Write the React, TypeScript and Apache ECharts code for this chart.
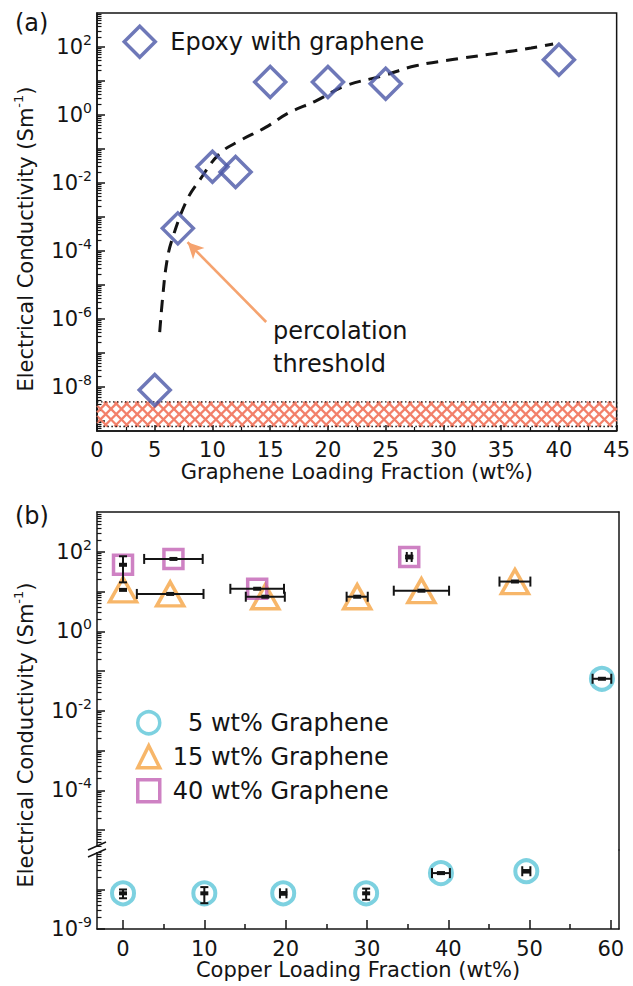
import React, { useEffect, useRef } from 'react';
import * as echarts from 'echarts';

const FONT = 'DejaVu Sans';
const INK = '#141414';

// ---------- Panel (a): epoxy with graphene ----------
const grapheneWt = [5, 7, 10, 12, 15, 20, 25, 40];
const epoxySigma = [8.1e-9, 4.6e-4, 0.03, 0.021, 9.3, 9.3, 8.3, 42];
const fitWt = [5.43, 5.69, 6.03, 6.47, 7.76, 8.88, 10.6, 12.3, 14.6, 16.6, 18.97, 21.5, 24.7, 27.6, 31.3, 34.7, 37.6, 39.5];
const fitSigma = [4.1e-7, 4.4e-6, 4.4e-5, 2.0e-4, 3.0e-3, 1.2e-2, 7.2e-2, 0.17, 0.43, 1.15, 2.6, 7.2, 14, 28, 45, 66, 93, 123];
const bandWt = [0, 45];
const bandSigma = [6.8e-10, 3.6e-9];
const arrowWt = [14.65, 7.84];
const arrowSigma = [8.1e-7, 1.8e-4];
const aXLabels = [0, 5, 10, 15, 20, 25, 30, 35, 40, 45];
const aYExponents = [-8, -6, -4, -2, 0, 2];
const aYMajors = [-9, -8, -7, -6, -5, -4, -3, -2, -1, 0, 1, 2];

// ---------- Panel (b): copper loading ----------
const copperWt5 = [0, 10, 19.7, 29.9, 39.1, 49.6, 58.9];
const sigma5 = [8.0e-9, 8.0e-9, 8.0e-9, 8.0e-9, 2.6e-8, 2.9e-8, 0.064];
const xErr5 = [0, 0, 0.4, 0, 1.1, 0.5, 1.15];
const yErr5 = [2.0e-9, 3.5e-9, 0.6e-9, 2.5e-9, 1.0e-9, 2.0e-9, 0];

const copperWt15 = [0, 5.8, 17.5, 28.8, 36.7, 48.2];
const sigma15 = [11, 8.7, 7.4, 7.4, 10.5, 17.8];
const xErr15 = [0, 4.1, 2.4, 1.3, 3.4, 1.9];
const yErr15 = [0, 0, 0, 0, 0, 0];

const copperWt40 = [0, 6.2, 16.5, 35.2];
const sigma40 = [47, 66, 11.7, 74];
const xErr40 = [0, 3.6, 3.3, 0.3];
const yErr40 = [30, 0, 0, 6];

const bXLabels = [0, 10, 20, 30, 40, 50, 60];
const bXMinor = [5, 15, 25, 35, 45, 55];
const bUpperExponents = [-4, -2, 0, 2];
const bUpperMajors = [-5, -4, -3, -2, -1, 0, 1, 2];
const bLowerExponents = [-9];
const bLowerMajors = [-9, -8];

const C_DIAMOND = '#4A56A6';
const C_CIRCLE = '#5CC6D8';
const C_TRI = '#F5A443';
const C_SQ = '#C262B4';
const C_HATCH = '#F2806A';
const C_ARROW = '#F5A36F';

const lg = (v: number) => Math.log10(v);

function minorTicks(lo: number, hi: number): number[] {
  const out: number[] = [];
  for (let n = Math.floor(lo) - 1; n <= Math.ceil(hi); n++) {
    for (let k = 2; k <= 9; k++) {
      const v = n + Math.log10(k);
      if (v >= lo + 1e-6 && v <= hi - 1e-6) out.push(v);
    }
  }
  return out;
}

const richLabel = {
  b: { fontSize: 21, lineHeight: 28, fontFamily: FONT, color: INK },
  s: { fontSize: 14, lineHeight: 14, verticalAlign: 'top', fontFamily: FONT, color: INK },
};
const powFormatter = (v: number) => `{b|10}{s|${Math.round(v)}}`;

const lineStyle = { color: INK, width: 1.5 };

function yTitle(pad: number) {
  return {
    name: '{t|Electrical Conductivity (Sm}{s|-1}{t|)}',
    nameLocation: 'middle',
    nameGap: 57,
    nameRotate: 90,
    nameTextStyle: {
      padding: [0, pad, 0, 0],
      rich: {
        t: { fontSize: 21, lineHeight: 28, fontFamily: FONT, color: INK },
        s: { fontSize: 13, lineHeight: 13, verticalAlign: 'top', fontFamily: FONT, color: INK },
      },
    },
  };
}

function makeErrData(xs: number[], ys: number[], xe: number[], ye: number[], keep: (logY: number) => boolean) {
  const out: number[][] = [];
  xs.forEach((x, i) => {
    const y = lg(ys[i]);
    if (!keep(y)) return;
    const yl = ye[i] > 0 ? lg(ys[i] - ye[i]) : y;
    const yh = ye[i] > 0 ? lg(ys[i] + ye[i]) : y;
    out.push([x, y, x - xe[i], x + xe[i], yl, yh]);
  });
  return out;
}

function scatterData(xs: number[], ys: number[], keep: (logY: number) => boolean) {
  const out: number[][] = [];
  xs.forEach((x, i) => {
    const y = lg(ys[i]);
    if (keep(y)) out.push([x, y]);
  });
  return out;
}

const renderErr = (params: any, api: any) => {
  const x = api.value(0), y = api.value(1);
  const c = api.coord([x, y]);
  const lo = api.coord([api.value(2), y]);
  const hi = api.coord([api.value(3), y]);
  const yl = api.coord([x, api.value(4)]);
  const yh = api.coord([x, api.value(5)]);
  const st = { stroke: INK, lineWidth: 2 };
  const ch: any[] = [];
  if (hi[0] - lo[0] > 1) {
    ch.push({ type: 'line', shape: { x1: lo[0], y1: c[1], x2: hi[0], y2: c[1] }, style: st });
    ch.push({ type: 'line', shape: { x1: lo[0], y1: c[1] - 5, x2: lo[0], y2: c[1] + 5 }, style: st });
    ch.push({ type: 'line', shape: { x1: hi[0], y1: c[1] - 5, x2: hi[0], y2: c[1] + 5 }, style: st });
  }
  if (yl[1] - yh[1] > 1) {
    ch.push({ type: 'line', shape: { x1: c[0], y1: yh[1], x2: c[0], y2: yl[1] }, style: st });
    ch.push({ type: 'line', shape: { x1: c[0] - 4, y1: yh[1], x2: c[0] + 4, y2: yh[1] }, style: st });
    ch.push({ type: 'line', shape: { x1: c[0] - 4, y1: yl[1], x2: c[0] + 4, y2: yl[1] }, style: st });
  }
  ch.push({ type: 'rect', shape: { x: c[0] - 4, y: c[1] - 2, width: 8, height: 4 }, style: { fill: INK } });
  return { type: 'group', children: ch };
};

const renderHatch = (params: any, api: any) => {
  const p0 = api.coord([api.value(0), api.value(1)]);
  const p1 = api.coord([api.value(2), api.value(3)]);
  const x0 = p0[0], yTop = p0[1], x1 = p1[0], yBot = p1[1];
  const h = yBot - yTop;
  const per = 10.5;
  const st = { stroke: C_HATCH, lineWidth: 2.3 };
  const ch: any[] = [];
  for (let xb = x0 - h; xb <= x1; xb += per) {
    const t0 = Math.max(0, x0 - xb);
    const t1 = Math.min(h, x1 - xb);
    if (t1 > t0) {
      ch.push({ type: 'line', shape: { x1: xb + t0, y1: yBot - t0, x2: xb + t1, y2: yBot - t1 }, style: st });
      ch.push({ type: 'line', shape: { x1: xb + t0, y1: yTop + t0, x2: xb + t1, y2: yTop + t1 }, style: st });
    }
  }
  ch.push({
    type: 'rect',
    shape: { x: x0, y: yTop, width: x1 - x0, height: h },
    style: { fill: 'none', stroke: INK, lineWidth: 1.3, lineDash: [1.5, 2.5] },
  });
  return { type: 'group', children: ch };
};

const hollow = (color: string, bw: number) => ({ color: 'rgba(255,255,255,0)', borderColor: color, borderWidth: bw });

export default function App() {
  const ref = useRef<HTMLDivElement>(null);
  useEffect(() => {
    if (!ref.current) return;
    const chart = echarts.init(ref.current, undefined, { renderer: 'svg' });
    const isUpper = (v: number) => v > -7;
    const isLower = (v: number) => v <= -7;
    const any = () => true;

    const option: any = {
      animation: false,
      textStyle: { fontFamily: FONT },
      grid: [
        { left: 97, top: 13, width: 522, height: 418, show: true, borderColor: INK, borderWidth: 1.5 },
        { left: 97, top: 512, width: 522, height: 338 },
        { left: 97, top: 850, width: 522, height: 79 },
      ],
      legend: [
        {
          data: ['Epoxy with graphene'],
          left: 117.5,
          top: 19.5,
          itemWidth: 31,
          itemHeight: 31,
          itemStyle: { borderWidth: 3.5 },
          textStyle: { fontSize: 24, fontFamily: FONT, color: INK, padding: [0, 0, 0, 10], lineHeight: 24 },
        },
        {
          data: ['5 wt% Graphene', '15 wt% Graphene', '40 wt% Graphene'],
          orient: 'vertical',
          left: 131,
          top: 705,
          itemWidth: 22,
          itemHeight: 22,
          itemGap: 8.5,
          itemStyle: { borderWidth: 3.5 },
          formatter: (n: string) => (n.startsWith('5 ') ? '\u2007' + n : n),
          textStyle: { fontSize: 24, fontFamily: FONT, color: INK, padding: [0, 0, 0, 8], lineHeight: 24 },
        },
      ],
      xAxis: [
        {
          type: 'value', gridIndex: 0, position: 'bottom', min: 0, max: 45, interval: 5,
          axisLine: { onZero: false, lineStyle },
          axisTick: { inside: true, length: 6, lineStyle },
          minorTick: { show: true, splitNumber: 2, length: 4, lineStyle: { color: INK, width: 1.2 } },
          splitLine: { show: false }, minorSplitLine: { show: false },
          axisLabel: { fontSize: 21, color: INK, margin: 8, fontFamily: FONT, customValues: aXLabels },
          name: 'Graphene Loading Fraction (wt%)', nameLocation: 'middle', nameGap: 30,
          nameTextStyle: { fontSize: 21, color: INK, fontFamily: FONT },
        },
        {
          type: 'value', gridIndex: 1, position: 'top', min: -3.2, max: 61,
          axisLine: { onZero: false, lineStyle }, axisTick: { show: false }, axisLabel: { show: false },
          splitLine: { show: false },
        },
        {
          type: 'value', gridIndex: 2, position: 'bottom', min: -3.2, max: 61,
          axisLine: { onZero: false, lineStyle },
          axisTick: { inside: true, length: 9, lineStyle, customValues: bXLabels },
          axisLabel: { fontSize: 21, color: INK, margin: 9, fontFamily: FONT, customValues: bXLabels },
          splitLine: { show: false },
          name: 'Copper Loading Fraction (wt%)', nameLocation: 'middle', nameGap: 29,
          nameTextStyle: { fontSize: 21, color: INK, fontFamily: FONT },
        },
        {
          type: 'value', gridIndex: 2, position: 'bottom', min: -3.2, max: 61,
          axisLine: { show: false, onZero: false },
          axisTick: { inside: true, length: 5, lineStyle, customValues: bXMinor },
          axisLabel: { show: false }, splitLine: { show: false },
        },
      ],
      yAxis: [
        {
          type: 'value', gridIndex: 0, position: 'left', min: -9.3, max: 3,
          axisLine: { onZero: false, lineStyle },
          axisTick: { inside: true, length: 8, lineStyle, customValues: aYMajors },
          axisLabel: { customValues: aYExponents, formatter: powFormatter, rich: richLabel, margin: 5 },
          splitLine: { show: false },
          ...yTitle(34),
        },
        {
          type: 'value', gridIndex: 0, position: 'left', min: -9.3, max: 3,
          axisLine: { show: false, onZero: false },
          axisTick: { inside: true, length: 4.5, lineStyle: { color: INK, width: 1.2 }, customValues: minorTicks(-9.3, 3) },
          axisLabel: { show: false }, splitLine: { show: false },
        },
        {
          type: 'value', gridIndex: 1, position: 'left', min: -5.5, max: 3,
          axisLine: { onZero: false, lineStyle },
          axisTick: { inside: true, length: 8, lineStyle, customValues: bUpperMajors },
          axisLabel: { customValues: bUpperExponents, formatter: powFormatter, rich: richLabel, margin: 5 },
          splitLine: { show: false },
          ...yTitle(108),
        },
        {
          type: 'value', gridIndex: 1, position: 'left', min: -5.5, max: 3,
          axisLine: { show: false, onZero: false },
          axisTick: { inside: true, length: 4.5, lineStyle: { color: INK, width: 1.2 }, customValues: minorTicks(-5.5, 3) },
          axisLabel: { show: false }, splitLine: { show: false },
        },
        {
          type: 'value', gridIndex: 1, position: 'right', min: -5.5, max: 3,
          axisLine: { onZero: false, lineStyle }, axisTick: { show: false }, axisLabel: { show: false },
          splitLine: { show: false },
        },
        {
          type: 'value', gridIndex: 2, position: 'left', min: -9, max: -7,
          axisLine: { onZero: false, lineStyle },
          axisTick: { inside: true, length: 8, lineStyle, customValues: bLowerMajors },
          axisLabel: { customValues: bLowerExponents, formatter: powFormatter, rich: richLabel, margin: 5 },
          splitLine: { show: false },
        },
        {
          type: 'value', gridIndex: 2, position: 'left', min: -9, max: -7,
          axisLine: { show: false, onZero: false },
          axisTick: { inside: true, length: 4.5, lineStyle: { color: INK, width: 1.2 }, customValues: minorTicks(-9, -7) },
          axisLabel: { show: false }, splitLine: { show: false },
        },
        {
          type: 'value', gridIndex: 2, position: 'right', min: -9, max: -7,
          axisLine: { onZero: false, lineStyle }, axisTick: { show: false }, axisLabel: { show: false },
          splitLine: { show: false },
        },
      ],
      series: [
        {
          type: 'custom', name: 'band', xAxisIndex: 0, yAxisIndex: 0, z: 1, silent: true,
          renderItem: renderHatch,
          encode: { x: [0, 2], y: [1, 3] },
          data: [[bandWt[0], lg(bandSigma[1]), bandWt[1], lg(bandSigma[0])]],
        },
        {
          type: 'line', name: 'fit', xAxisIndex: 0, yAxisIndex: 0, z: 2,
          data: fitWt.map((x, i) => [x, lg(fitSigma[i])]),
          smooth: 0.4, showSymbol: false, symbol: 'none',
          lineStyle: { color: INK, width: 3, type: [12, 8] },
          markLine: {
            silent: true, symbol: ['none', 'arrow'], symbolSize: [12, 16],
            lineStyle: { color: C_ARROW, width: 2.6, type: 'solid' },
            label: { show: false },
            data: [[
              { coord: [arrowWt[0], lg(arrowSigma[0])] },
              { coord: [arrowWt[1], lg(arrowSigma[1])] },
            ]],
          },
        },
        {
          type: 'scatter', name: 'Epoxy with graphene', xAxisIndex: 0, yAxisIndex: 0, z: 3,
          symbol: 'diamond', symbolSize: 31,
          itemStyle: hollow(C_DIAMOND, 3.5),
          data: scatterData(grapheneWt, epoxySigma, any),
        },
        {
          type: 'scatter', name: '5 wt% Graphene', xAxisIndex: 1, yAxisIndex: 2, z: 3,
          symbol: 'circle', symbolSize: 22, itemStyle: hollow(C_CIRCLE, 4),
          data: scatterData(copperWt5, sigma5, isUpper),
        },
        {
          type: 'scatter', name: '5 wt% Graphene', xAxisIndex: 2, yAxisIndex: 5, z: 3,
          symbol: 'circle', symbolSize: 22, itemStyle: hollow(C_CIRCLE, 4),
          data: scatterData(copperWt5, sigma5, isLower),
        },
        {
          type: 'scatter', name: '15 wt% Graphene', xAxisIndex: 1, yAxisIndex: 2, z: 3,
          symbol: 'triangle', symbolSize: [27, 24], itemStyle: hollow(C_TRI, 3.5),
          data: scatterData(copperWt15, sigma15, any),
        },
        {
          type: 'scatter', name: '40 wt% Graphene', xAxisIndex: 1, yAxisIndex: 2, z: 3,
          symbol: 'rect', symbolSize: 19, itemStyle: hollow(C_SQ, 3.5),
          data: scatterData(copperWt40, sigma40, any),
        },
        {
          type: 'custom', name: 'err-upper', xAxisIndex: 1, yAxisIndex: 2, z: 5, silent: true,
          renderItem: renderErr, encode: { x: [0, 2, 3], y: [1, 4, 5] },
          data: [
            ...makeErrData(copperWt5, sigma5, xErr5, yErr5, isUpper),
            ...makeErrData(copperWt15, sigma15, xErr15, yErr15, any),
            ...makeErrData(copperWt40, sigma40, xErr40, yErr40, any),
          ],
        },
        {
          type: 'custom', name: 'err-lower', xAxisIndex: 2, yAxisIndex: 5, z: 5, silent: true,
          renderItem: renderErr, encode: { x: [0, 2, 3], y: [1, 4, 5] },
          data: makeErrData(copperWt5, sigma5, xErr5, yErr5, isLower),
        },
      ],
      graphic: [
        { type: 'text', left: 15, top: 11, z: 100, style: { text: '(a)', fontSize: 24, fontFamily: FONT, fill: INK } },
        { type: 'text', left: 15, top: 504, z: 100, style: { text: '(b)', fontSize: 24, fontFamily: FONT, fill: INK } },
        {
          type: 'text', x: 273, y: 314, z: 100,
          style: { text: 'percolation\nthreshold', fontSize: 24, lineHeight: 33, fontFamily: FONT, fill: INK },
        },
        { type: 'rect', z: 100, shape: { x: 93, y: 847, width: 8, height: 5 }, style: { fill: '#fff' } },
        { type: 'line', z: 101, shape: { x1: 88, y1: 850, x2: 106, y2: 842 }, style: { stroke: INK, lineWidth: 1.6 } },
        { type: 'line', z: 101, shape: { x1: 88, y1: 857, x2: 106, y2: 849 }, style: { stroke: INK, lineWidth: 1.6 } },
      ],
    };
    chart.setOption(option);
    return () => chart.dispose();
  }, []);
  return (
    <div
      ref={ref}
      style={{ position: 'fixed', left: 0, top: 0, width: 633, height: 986, background: '#fff' }}
    />
  );
}
